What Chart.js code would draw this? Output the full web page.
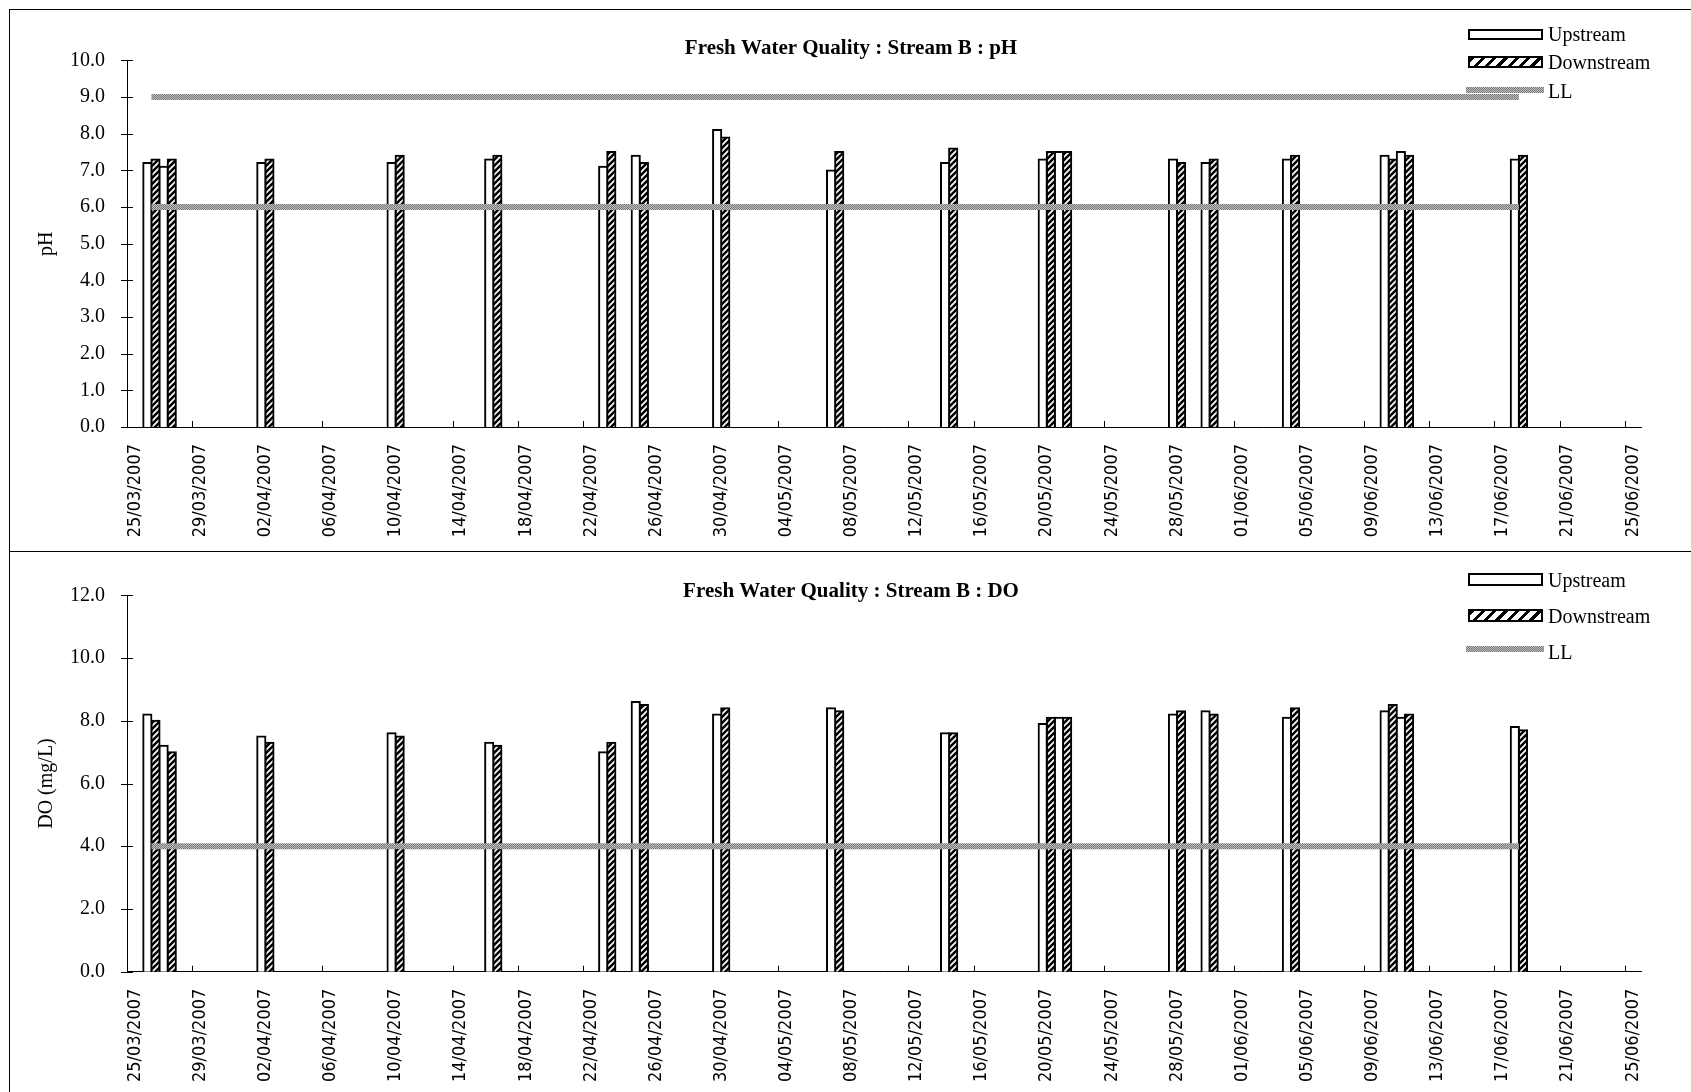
<!DOCTYPE html>
<html>
<head>
<meta charset="utf-8">
<title>Fresh Water Quality : Stream B</title>
<script src="https://cdn.jsdelivr.net/npm/chart.js@4.4.1/dist/chart.umd.min.js"></script>
<style>
  html, body { margin: 0; padding: 0; background: #fff; overflow: hidden; }
  body { width: 1691px; height: 1092px; position: relative; }
  canvas { position: absolute; left: 0; }
  #phChart { top: 0; }
  #doChart { top: 551px; }
  .frame { position: absolute; box-sizing: border-box; border: 1px solid #000; }
  .sw { position: absolute; box-sizing: border-box; }
  .key { position: absolute; font-family: 'Liberation Serif', 'Times New Roman', serif; font-size: 20px; line-height: 20px; color: #000; white-space: nowrap; }
</style>
</head>
<body>
<div class="frame" style="left:9px; top:9px; width:1700px; height:543px;"></div>
<div class="frame" style="left:9px; top:551px; width:1700px; height:600px;"></div>
<canvas id="phChart" width="1691" height="550"></canvas>
<canvas id="doChart" width="1691" height="541"></canvas>
<script>
// sampling days (one Upstream + one Downstream reading each)
const sampleDates = ['26/03/2007', '27/03/2007', '02/04/2007', '10/04/2007', '16/04/2007', '23/04/2007',
  '25/04/2007', '30/04/2007', '07/05/2007', '14/05/2007', '20/05/2007', '21/05/2007',
  '28/05/2007', '30/05/2007', '04/06/2007', '10/06/2007', '11/06/2007', '18/06/2007'];

const phUpstream   = [7.2, 7.1, 7.2, 7.2, 7.3, 7.1, 7.4, 8.1, 7.0, 7.2, 7.3, 7.5, 7.3, 7.2, 7.3, 7.4, 7.5, 7.3];
const phDownstream = [7.3, 7.3, 7.3, 7.4, 7.4, 7.5, 7.2, 7.9, 7.5, 7.6, 7.5, 7.5, 7.2, 7.3, 7.4, 7.3, 7.4, 7.4];
const phUpperLL    = [9.0, 9.0, 9.0, 9.0, 9.0, 9.0, 9.0, 9.0, 9.0, 9.0, 9.0, 9.0, 9.0, 9.0, 9.0, 9.0, 9.0, 9.0];
const phLowerLL    = [6.0, 6.0, 6.0, 6.0, 6.0, 6.0, 6.0, 6.0, 6.0, 6.0, 6.0, 6.0, 6.0, 6.0, 6.0, 6.0, 6.0, 6.0];

const doUpstream   = [8.2, 7.2, 7.5, 7.6, 7.3, 7.0, 8.6, 8.2, 8.4, 7.6, 7.9, 8.1, 8.2, 8.3, 8.1, 8.3, 8.1, 7.8];
const doDownstream = [8.0, 7.0, 7.3, 7.5, 7.2, 7.3, 8.5, 8.4, 8.3, 7.6, 8.1, 8.1, 8.3, 8.2, 8.4, 8.5, 8.2, 7.7];
const doLL         = [4.0, 4.0, 4.0, 4.0, 4.0, 4.0, 4.0, 4.0, 4.0, 4.0, 4.0, 4.0, 4.0, 4.0, 4.0, 4.0, 4.0, 4.0];

const legendLabels = ['Upstream', 'Downstream', 'LL'];
const axisStart = '25/03/2007';
const axisEnd = '25/06/2007';

// date axis: one category per day, labelled every 4th day
const toDate = s => { const [d, m, y] = s.split('/').map(Number); return new Date(y, m - 1, d); };
const fmt = d => String(d.getDate()).padStart(2, '0') + '/' + String(d.getMonth() + 1).padStart(2, '0') + '/' + d.getFullYear();
const axisDays = [];
for (let d = toDate(axisStart); d <= toDate(axisEnd); d.setDate(d.getDate() + 1)) axisDays.push(fmt(d));

const serif = "'Liberation Serif', 'Times New Roman', serif";

const pickDateFont = () => {
  const g = document.createElement('canvas').getContext('2d');
  g.font = "23px 'Liberation Sans Narrow', monospace";
  const a = g.measureText('25/03/2007').width;
  g.font = '23px monospace';
  const b = g.measureText('25/03/2007').width;
  return Math.abs(a - b) > 1
    ? { family: "'Liberation Sans Narrow'", size: 23 }
    : { family: "'DejaVu Sans Condensed', 'DejaVu Sans', sans-serif", size: 18 };
};
const dateFont = pickDateFont();

const makeHatch = () => {
  const s = 6;
  const c = document.createElement('canvas');
  c.width = c.height = s;
  const g = c.getContext('2d');
  g.fillStyle = '#fff';
  g.fillRect(0, 0, s, s);
  g.strokeStyle = '#000';
  g.lineWidth = 2.5;
  g.beginPath();
  g.moveTo(-1, s + 1); g.lineTo(s + 1, -1);
  g.moveTo(-2, 2); g.lineTo(2, -2);
  g.moveTo(s - 2, s + 2); g.lineTo(s + 2, s - 2);
  g.stroke();
  return g.createPattern(c, 'repeat');
};

const makeStipple = () => {
  const c = document.createElement('canvas');
  c.width = c.height = 2;
  const g = c.getContext('2d');
  g.fillStyle = '#c0c0c0'; g.fillRect(0, 0, 2, 2);
  g.fillStyle = '#777'; g.fillRect(0, 0, 1, 1); g.fillRect(1, 1, 1, 1);
  return g.createPattern(c, 'repeat');
};

const hatch = makeHatch();
const stipple = makeStipple();

const pairs = vals => sampleDates.map((d, i) => ({ x: d, y: vals[i] }));

// tick marks: x ticks point into the plot at day boundaries, y ticks cross the axis
const tickMarks = {
  id: 'tickMarks',
  beforeDatasetsDraw(chart) {
    const { ctx, chartArea: a } = chart;
    const x = chart.scales.x, y = chart.scales.y;
    const slot = x.getPixelForValue(1) - x.getPixelForValue(0);
    ctx.save();
    ctx.strokeStyle = '#000';
    ctx.lineWidth = 1;
    ctx.beginPath();
    for (let v = 0; v < axisDays.length; v += 4) {
      const px = Math.round(x.getPixelForValue(v) - slot / 2) + 0.5;
      ctx.moveTo(px, a.bottom);
      ctx.lineTo(px, a.bottom - 6);
    }
    y.ticks.forEach((t, i) => {
      const py = Math.round(y.getPixelForTick(i)) + 0.5;
      ctx.moveTo(a.left - 6, py);
      ctx.lineTo(a.left + 6, py);
    });
    ctx.stroke();
    ctx.restore();
  }
};

const buildChart = (id, cfg) => {
  const datasets = [
    { type: 'bar', label: legendLabels[0], data: pairs(cfg.up), backgroundColor: '#fff', borderColor: '#000',
      borderWidth: 2, inflateAmount: 1, categoryPercentage: 1, barPercentage: 1, order: 1 },
    { type: 'bar', label: legendLabels[1], data: pairs(cfg.down), backgroundColor: hatch, borderColor: '#000',
      borderWidth: 2, inflateAmount: 1, categoryPercentage: 1, barPercentage: 1, order: 1 }
  ];
  cfg.limits.forEach(l => datasets.push({
    type: 'line', label: legendLabels[2], data: pairs(l), borderColor: stipple, borderWidth: 6,
    pointRadius: 0, spanGaps: true, tension: 0, borderCapStyle: 'butt', order: 0
  }));

  return new Chart(document.getElementById(id), {
    data: { labels: axisDays, datasets },
    options: {
      responsive: false,
      animation: false,
      devicePixelRatio: 1,
      layout: { padding: { left: 61, right: 50, top: 0, bottom: 0 } },
      plugins: {
        legend: { display: false },
        tooltip: { enabled: false },
        title: {
          display: true,
          text: cfg.title,
          color: '#000',
          font: { family: serif, size: 21, weight: 'bold', lineHeight: 1.2 },
          padding: cfg.titlePad
        }
      },
      scales: {
        x: {
          type: 'category',
          offset: true,
          grid: { display: false, drawTicks: false },
          border: { display: true, color: '#000', width: 1 },
          ticks: {
            autoSkip: false,
            minRotation: 90,
            maxRotation: 90,
            padding: 17,
            color: '#000',
            font: dateFont,
            callback(v, i) { return i % 4 === 0 ? this.getLabelForValue(v) : null; }
          },
          afterFit(s) { s.height = cfg.xHeight; }
        },
        y: {
          min: 0,
          max: cfg.max,
          grid: { display: false, drawTicks: false },
          border: { display: true, color: '#000', width: 1 },
          ticks: {
            stepSize: cfg.step,
            padding: 22,
            color: '#000',
            font: { family: serif, size: 20 },
            callback: v => Number(v).toFixed(1)
          },
          title: {
            display: true,
            text: cfg.yTitle,
            color: '#000',
            font: { family: serif, size: 20 },
            padding: { top: -26, bottom: 0 }
          },
          afterFit(s) { s.width = 66; }
        }
      }
    },
    plugins: [tickMarks]
  });
};

buildChart('phChart', {
  title: 'Fresh Water Quality : Stream B : pH',
  titlePad: { top: 35.9, bottom: -0.7 },
  yTitle: 'pH',
  up: phUpstream, down: phDownstream, limits: [phUpperLL, phLowerLL],
  max: 10, step: 1, xHeight: 123
});

buildChart('doChart', {
  title: 'Fresh Water Quality : Stream B : DO',
  titlePad: { top: 28.4, bottom: -9.3 },
  yTitle: 'DO (mg/L)',
  up: doUpstream, down: doDownstream, limits: [doLL],
  max: 12, step: 2, xHeight: 120.3
});

// legends (page coordinates)
const legendRows = [
  [{ c: 34.5, h: 11, t: 34 }, { c: 62, h: 12, t: 62 }, { c: 89.5, h: 6, t: 91 }],
  [{ c: 579, h: 13, t: 580 }, { c: 615, h: 13, t: 616 }, { c: 649, h: 6, t: 652 }]
];
const swatchStyle = [
  'background:#fff; border:2px solid #000;',
  'border:2px solid #000; background:repeating-linear-gradient(135deg, #000 0 3px, #fff 3px 8px);',
  'background:repeating-conic-gradient(#777 0 25%, #c0c0c0 0 50%) 0 0 / 2px 2px;'
];
legendRows.forEach(rows => rows.forEach((r, i) => {
  const sw = document.createElement('div');
  sw.className = 'sw';
  const left = i === 2 ? 1466 : 1468;
  const width = i === 2 ? 78 : 75;
  sw.style.cssText = `left:${left}px; top:${r.c - r.h / 2}px; width:${width}px; height:${r.h}px; ` + swatchStyle[i];
  document.body.appendChild(sw);
  const tx = document.createElement('div');
  tx.className = 'key';
  tx.style.left = '1548px';
  tx.style.top = (r.t - 10) + 'px';
  tx.textContent = legendLabels[i];
  document.body.appendChild(tx);
}));
</script>
</body>
</html>
